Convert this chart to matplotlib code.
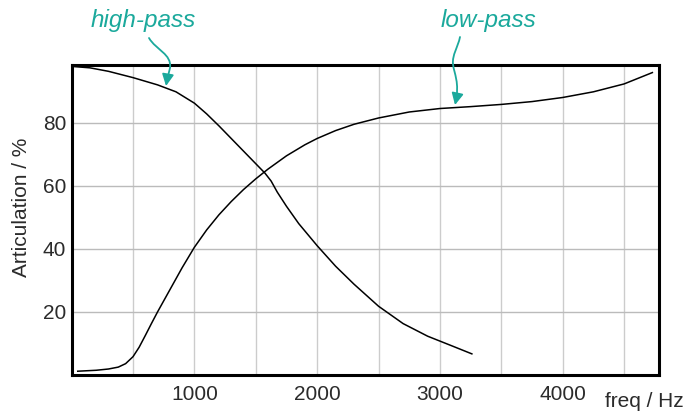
"""Articulation of high-pass and low-pass filtered speech vs. cut-off frequency."""

import matplotlib
matplotlib.use("Agg")
import matplotlib.pyplot as plt
from matplotlib.patches import FancyArrowPatch
from matplotlib.path import Path
from matplotlib.ticker import MultipleLocator

# high-pass filtered speech: cut-off frequency (Hz) vs articulation (%)
hp_freq = [20, 150, 300, 500, 700, 850, 1000, 1100, 1200, 1300, 1400, 1500,
           1575, 1625, 1675, 1750, 1850, 2000, 2150, 2300, 2500, 2700, 2900,
           3100, 3260]
hp_val = [97.8, 97.4, 96.3, 94.3, 92.0, 89.8, 86.2, 82.8, 79.0, 75.0, 71.0, 67.0,
          64.0, 61.5, 58.0, 53.5, 48.0, 41.0, 34.5, 28.8, 21.8, 16.3, 12.3,
          9.2, 6.7]

# low-pass filtered speech
lp_freq = [50, 200, 300, 380, 440, 500, 550, 600, 650, 700, 800, 900, 1000,
           1100, 1200, 1300, 1400, 1500, 1600, 1750, 1900, 2000, 2150, 2300,
           2500, 2750, 3000, 3250, 3500, 3750, 4000, 4250, 4500, 4730]
lp_val = [1.2, 1.5, 1.9, 2.5, 3.6, 5.8, 8.8, 12.5, 16.3, 20.0, 27.0, 34.0, 40.5,
          46.0, 50.8, 55.0, 58.8, 62.2, 65.3, 69.5, 73.0, 75.0, 77.5, 79.5,
          81.5, 83.4, 84.5, 85.1, 85.8, 86.7, 88.0, 89.8, 92.3, 95.9]

x_ticks = [1000, 2000, 3000, 4000]
y_ticks = [20, 40, 60, 80]

TEAL = "#1ba99c"
W, H = 686, 415

plt.rcParams["font.family"] = ["Liberation Sans", "DejaVu Sans"]

fig = plt.figure(figsize=(W / 100, H / 100), dpi=100)
ax = fig.add_axes([71.6 / W, 1 - 375 / H, (658.5 - 71.6) / W, (375 - 65) / H])

ax.plot(hp_freq, hp_val, color="black", lw=1.1, solid_joinstyle="round")
ax.plot(lp_freq, lp_val, color="black", lw=1.1, solid_joinstyle="round")

ax.set_xlim(0, 4780)
ax.set_ylim(0, 98.3)
ax.set_xticks(x_ticks)
ax.set_yticks(y_ticks)
ax.xaxis.set_minor_locator(MultipleLocator(500))
ax.grid(which="both", axis="x", color="#cccccc", lw=1)
ax.grid(which="major", axis="y", color="#bbbbbb", lw=1)
ax.set_axisbelow(True)
ax.tick_params(which="both", length=0, labelsize=15, colors="#2b2b2b")
ax.tick_params(axis="x", pad=7)
ax.tick_params(axis="y", pad=4)
for sp in ax.spines.values():
    sp.set_linewidth(2.2)
    sp.set_color("black")


def px(x, y):
    return (x / W, 1 - y / H)


fig.text(*px(22, 207), "Articulation / %", rotation=90, ha="center",
         va="center", fontsize=15, color="#2b2b2b")
fig.text(*px(684, 401), "freq / Hz", ha="right", va="center",
         fontsize=15, color="#2b2b2b")

fig.text(*px(143, 21), "high-pass", ha="center", va="center", fontsize=17.5,
         style="italic", color=TEAL)
fig.text(*px(488, 21), "low-pass", ha="center", va="center", fontsize=17.5,
         style="italic", color=TEAL)

# wavy pointer arrows
hp_path = Path([px(149, 38), px(156, 50), px(172, 54), px(170, 68),
                px(168, 76), px(167, 80), px(166, 86)],
               [Path.MOVETO, Path.CURVE4, Path.CURVE4, Path.CURVE4,
                Path.CURVE4, Path.CURVE4, Path.CURVE4])
lp_path = Path([px(460, 37), px(458, 47), px(452, 55), px(453, 64),
                px(454, 74), px(460, 82), px(455, 105)],
               [Path.MOVETO, Path.CURVE4, Path.CURVE4, Path.CURVE4,
                Path.CURVE4, Path.CURVE4, Path.CURVE4])
for p in (hp_path, lp_path):
    fig.patches.append(FancyArrowPatch(path=p, transform=fig.transFigure,
                                       arrowstyle="-|>,head_length=7,head_width=3.5",
                                       mutation_scale=1, color=TEAL, lw=1.3))

fig.savefig("out.png", dpi=100)
